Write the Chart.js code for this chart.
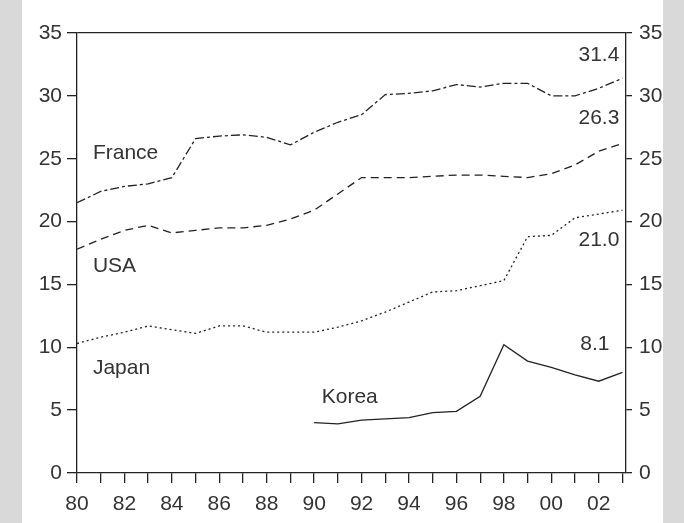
<!DOCTYPE html>
<html>
<head>
<meta charset="utf-8">
<script src="https://cdn.jsdelivr.net/npm/chart.js@4"></script>
<style>
  body { margin: 0; background: #fff; }
  canvas { display: block; }
</style>
</head>
<body>
<canvas id="chart1" width="684" height="523"></canvas>
<script>
// data
const years = [1980, 1981, 1982, 1983, 1984, 1985, 1986, 1987, 1988, 1989, 1990, 1991,
               1992, 1993, 1994, 1995, 1996, 1997, 1998, 1999, 2000, 2001, 2002, 2003];
const france = [21.5, 22.4, 22.8, 23.0, 23.5, 26.6, 26.8, 26.9, 26.7, 26.1, 27.1, 27.9,
                28.5, 30.1, 30.2, 30.4, 30.9, 30.7, 31.0, 31.0, 30.0, 30.0, 30.6, 31.4];
const usa = [17.8, 18.6, 19.3, 19.7, 19.1, 19.3, 19.5, 19.5, 19.7, 20.2, 20.9, 22.2,
             23.5, 23.5, 23.5, 23.6, 23.7, 23.7, 23.6, 23.5, 23.8, 24.5, 25.6, 26.2];
const japan = [10.3, 10.8, 11.2, 11.7, 11.4, 11.1, 11.7, 11.7, 11.2, 11.2, 11.2, 11.6,
               12.1, 12.8, 13.6, 14.4, 14.5, 14.9, 15.3, 18.8, 18.9, 20.3, 20.6, 20.9];
const korea = [null, null, null, null, null, null, null, null, null, null, 4.0, 3.9,
               4.2, 4.3, 4.4, 4.8, 4.9, 6.1, 10.2, 8.9, 8.4, 7.8, 7.3, 8.0];
const yTicks = [0, 5, 10, 15, 20, 25, 30, 35];

// text labels placed in data units
const labelText = ['France', 'USA', 'Japan', 'Korea', '31.4', '26.3', '21.0', '8.1'];
const labelX = [1980.67, 1980.67, 1980.67, 1990.32, 2002.87, 2002.87, 2002.87, 2002.45];
const labelY = [25.46, 16.47, 8.35, 6.05, 33.25, 28.24, 18.54, 10.26];
const labelAlign = ['left', 'left', 'left', 'left', 'right', 'right', 'right', 'right'];

const ink = '#222';
const textInk = '#333';
const font = { family: "'Liberation Sans', Arial, sans-serif", size: 21 };

function pts(vals) {
  return years.map((y, i) => ({ x: y, y: vals[i] }));
}

const panelBg = {
  id: 'panelBg',
  beforeDraw(chart) {
    const c = chart.ctx;
    c.save();
    c.fillStyle = '#fff';
    c.fillRect(0, 0, chart.width, chart.height);
    c.fillStyle = '#d9d9d9';
    c.fillRect(0, 0, 22, chart.height);
    c.fillRect(663, 0, chart.width - 663, chart.height);
    c.restore();
  }
};

const seriesLabels = {
  id: 'seriesLabels',
  afterDatasetsDraw(chart) {
    const c = chart.ctx;
    const xs = chart.scales.x, ys = chart.scales.y;
    c.save();
    c.fillStyle = textInk;
    c.font = font.size + 'px ' + font.family;
    c.textBaseline = 'middle';
    labelText.forEach((t, i) => {
      c.textAlign = labelAlign[i];
      c.fillText(t, xs.getPixelForValue(labelX[i]), ys.getPixelForValue(labelY[i]));
    });
    c.restore();
  }
};

const ctx1 = document.getElementById('chart1');

new Chart(ctx1, {
  type: 'line',
  data: {
    datasets: [
      { label: 'France', data: pts(france), borderDash: [9, 3, 3, 3] },
      { label: 'USA', data: pts(usa), borderDash: [8, 5] },
      { label: 'Japan', data: pts(japan), borderDash: [2, 3] },
      { label: 'Korea', data: pts(korea), borderDash: [] }
    ]
  },
  options: {
    responsive: false,
    animation: false,
    spanGaps: false,
    layout: { padding: { top: 33, left: 0, right: 0, bottom: 0 } },
    elements: {
      line: { borderColor: ink, borderWidth: 1.3, tension: 0, fill: false },
      point: { radius: 0 }
    },
    plugins: {
      legend: { display: false },
      tooltip: { enabled: false }
    },
    scales: {
      x: {
        type: 'linear',
        min: 1980,
        max: 2003.15,
        afterFit: s => { s.height = 50; },
        border: { display: true, color: ink, width: 1.3 },
        grid: { drawOnChartArea: false, tickLength: 10, tickColor: ink, lineWidth: 1.3 },
        ticks: {
          stepSize: 1,
          includeBounds: false,
          autoSkip: false,
          maxRotation: 0,
          padding: 9,
          color: textInk,
          font: font,
          callback: v => (v % 2 === 0 ? String(v % 100).padStart(2, '0') : '')
        }
      },
      y: {
        position: 'left',
        min: 0,
        max: 35,
        afterFit: s => { s.width = 77; },
        afterBuildTicks: s => { s.ticks = yTicks.map(v => ({ value: v })); },
        border: { display: true, color: ink, width: 1.3 },
        grid: {
          drawOnChartArea: true,
          color: c => (c.tick && c.tick.value === 35 ? ink : 'rgba(0,0,0,0)'),
          tickColor: ink,
          tickLength: 10,
          lineWidth: 1.3
        },
        ticks: { padding: 5, color: textInk, font: font }
      },
      y2: {
        position: 'right',
        min: 0,
        max: 35,
        afterFit: s => { s.width = 58; },
        afterBuildTicks: s => { s.ticks = yTicks.map(v => ({ value: v })); },
        border: { display: true, color: ink, width: 1.3 },
        grid: { drawOnChartArea: false, tickColor: ink, tickLength: 6, lineWidth: 1.3 },
        ticks: { padding: 7, color: textInk, font: font }
      }
    }
  },
  plugins: [panelBg, seriesLabels]
});
</script>
</body>
</html>
